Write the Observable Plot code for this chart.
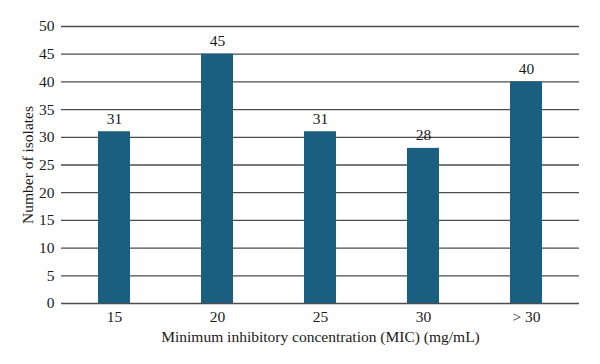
<!DOCTYPE html>
<html>
<head>
<meta charset="utf-8">
<script src="https://cdn.jsdelivr.net/npm/d3@7"></script>
<script src="https://cdn.jsdelivr.net/npm/@observablehq/plot@0.6"></script>
<style>
  html, body { margin: 0; padding: 0; background: #fff; }
  #chart svg { display: block; }
</style>
</head>
<body>
<div id="chart"></div>
<script>
// MIC categories and isolate counts
const categories = ["15", "20", "25", "30", "> 30"];
const counts = [31, 45, 31, 28, 40];
const yTicks = [0, 5, 10, 15, 20, 25, 30, 35, 40, 45, 50];

const data = categories.map((c, i) => ({mic: c, n: counts[i]}));

const font = "'Liberation Serif', 'DejaVu Serif', serif";

const chart = Plot.plot({
  width: 600,
  height: 364,
  marginLeft: 61,
  marginRight: 21,
  marginTop: 26,
  marginBottom: 61,
  style: {fontFamily: font, fontSize: "15.5px", color: "#1a1a1a", background: "#fff"},
  x: {
    domain: categories,
    paddingInner: 0.69,
    paddingOuter: 0.345,
    label: "Minimum inhibitory concentration (MIC) (mg/mL)",
    labelAnchor: "center",
    labelArrow: "none",
    labelOffset: 38,
    tickSize: 0,
    tickPadding: 7
  },
  y: {
    domain: [0, 50],
    ticks: yTicks,
    label: "Number of isolates",
    labelAnchor: "center",
    labelArrow: "none",
    labelOffset: 40,
    tickSize: 0,
    tickPadding: 7
  },
  marks: [
    Plot.ruleY(yTicks, {stroke: "#4d4d4d", strokeWidth: 1.3}),
    Plot.barY(data, {x: "mic", y: "n", fill: "#1a5e80"}),
    Plot.text(data, {x: "mic", y: "n", text: d => String(d.n), dy: -8, lineAnchor: "bottom", fontSize: 15.5, fill: "#1a1a1a"})
  ]
});

document.getElementById("chart").appendChild(chart);
</script>
</body>
</html>
